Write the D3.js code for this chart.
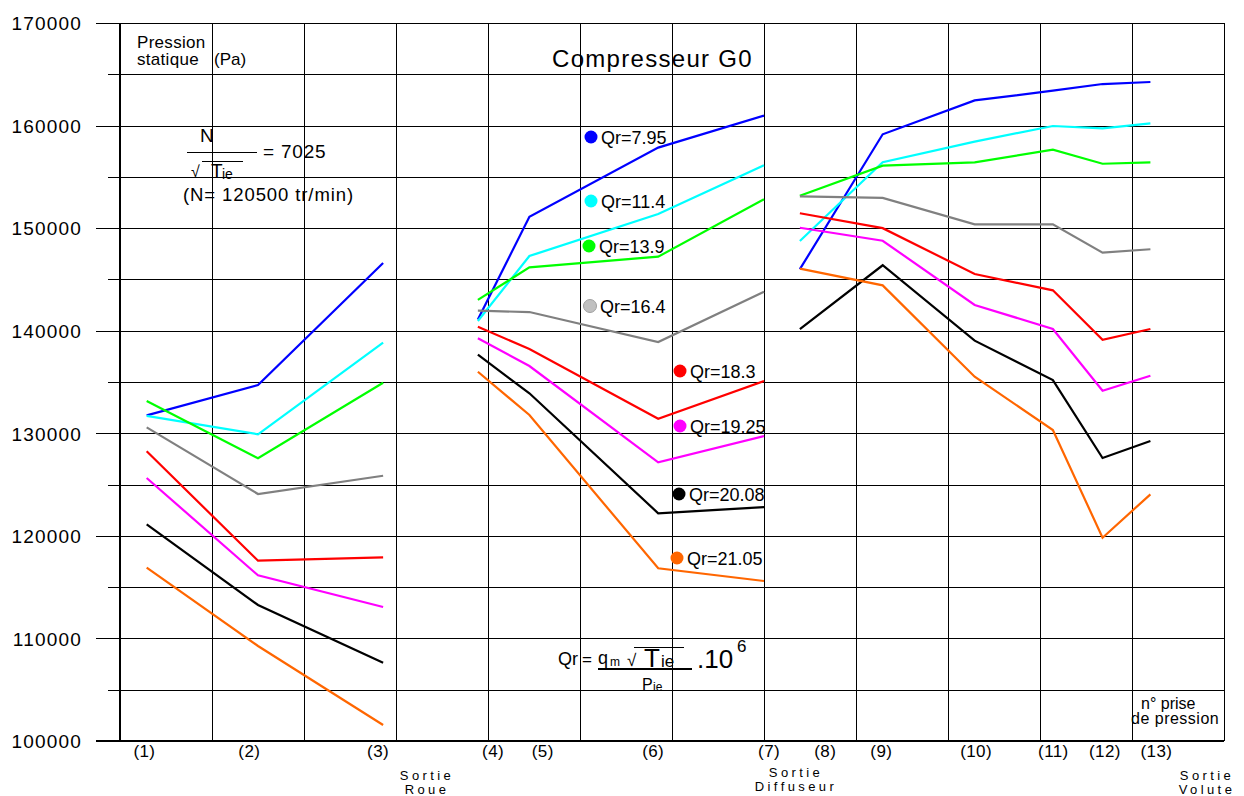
<!DOCTYPE html>
<html>
<head>
<meta charset="utf-8">
<script src="https://cdn.jsdelivr.net/npm/d3@7"></script>
<style>
  html, body { margin: 0; padding: 0; background: #fff; }
  svg { display: block; font-family: "Liberation Sans", Arial, sans-serif; }
</style>
</head>
<body>
<svg id="chart" width="1244" height="796"></svg>
<script>
// Pressure tap numbers along the compressor and where each one sits along the axis
const stations = ["(1)", "(2)", "(3)", "(4)", "(5)", "(6)", "(7)", "(8)", "(9)", "(10)", "(11)", "(12)", "(13)"];
const stationPos = [0.29, 1.50, 2.86, 3.89, 4.45, 5.85, 7.00, 7.39, 8.29, 9.29, 10.14, 10.68, 11.20];
const stationLabelPos = [0.26, 1.40, 2.80, 4.05, 4.59, 5.79, 7.05, 7.66, 8.27, 9.30, 10.14, 10.70, 11.26];

// Component boundaries: impeller (1-3), diffuser (4-7), volute (8-13)
const segments = [[0, 1, 2], [3, 4, 5, 6], [7, 8, 9, 10, 11, 12]];

// Static pressure (Pa) per reduced flow rate Qr
const qrLabels = ["Qr=7.95", "Qr=11.4", "Qr=13.9", "Qr=16.4", "Qr=18.3", "Qr=19.25", "Qr=20.08", "Qr=21.05"];
const qr795  = [131750, 134700, 146600, 141100, 151100, 157850, 160970, 146000, 159150, 162450, 163400, 164050, 164250];
const qr114  = [131700, 129900, 138830, 140950, 147280, 151380, 156120, 148750, 156420, 158430, 159960, 159730, 160220];
const qr139  = [133150, 127560, 134930, 143000, 146180, 147220, 152810, 153150, 156090, 156420, 157650, 156280, 156420];
const qr164  = [130580, 124080, 125860, 141950, 141820, 138900, 143800, 153100, 152950, 150370, 150370, 147610, 147940];
const qr183  = [128240, 117580, 117910, 140390, 138220, 131420, 135100, 151450, 150000, 145530, 143940, 139120, 140170];
const qr1925 = [125640, 116150, 113060, 139260, 136560, 127170, 129730, 150040, 148770, 142510, 140170, 134150, 135610];
const qr2008 = [121120, 113260, 107630, 137660, 133900, 122200, 122810, 140150, 146380, 139030, 135190, 127590, 129250];
const qr2105 = [116900, 109260, 101560, 136000, 131780, 116840, 115600, 146050, 144420, 135520, 130320, 119820, 124050];

const yTicks = [100000, 110000, 120000, 130000, 140000, 150000, 160000, 170000];

// Styling
const seriesValues = [qr795, qr114, qr139, qr164, qr183, qr1925, qr2008, qr2105];
const lineColors = ["#0000ff", "#00ffff", "#00ff00", "#808080", "#ff0000", "#ff00ff", "#000000", "#ff6600"];
const dotColors  = ["#0000ff", "#00ffff", "#00ff00", "#c0c0c0", "#ff0000", "#ff00ff", "#000000", "#ff6600"];
// Legend anchor (dot centre, px) for each series label
const legendAt = [[591, 137], [591, 201], [589, 246], [590, 306], [680, 371], [680, 426], [679, 494], [677, 558]];

const FONT = '"Liberation Sans", Arial, sans-serif';
const svg = d3.select("#chart");

const plotL = 120, plotR = 1224, plotT = 23, plotB = 741;
const x = d3.scaleLinear().domain([0, 12]).range([plotL, plotR]);
const y = d3.scaleLinear().domain([100000, 170000]).range([plotB, plotT]);

// Horizontal grid every 5000 Pa with outer ticks on the left
const gridY = d3.range(100000, 170001, 5000);
const gy = svg.append("g")
  .attr("transform", `translate(${plotL},0)`)
  .call(d3.axisLeft(y).tickValues(gridY).tickSize(-(plotR - plotL)).tickFormat(""));
gy.select(".domain").remove();
gy.selectAll(".tick line")
  .attr("x1", d => (d % 10000 === 0 ? -24 : -12))
  .attr("stroke", "#000").attr("stroke-width", 1)
  .attr("shape-rendering", "crispEdges");

// Pressure tick labels
const gyl = svg.append("g")
  .attr("transform", `translate(82,0)`)
  .call(d3.axisLeft(y).tickValues(yTicks).tickSize(0).tickPadding(0).tickFormat(d3.format("d")));
gyl.select(".domain").remove();
gyl.selectAll(".tick text")
  .attr("font-family", FONT).attr("font-size", 19).attr("fill", "#000")
  .attr("letter-spacing", "1.2px").attr("dy", "0.36em");

// Vertical grid
const gx = svg.append("g")
  .attr("transform", `translate(0,${plotB})`)
  .call(d3.axisBottom(x).tickValues(d3.range(0, 13)).tickSize(-(plotB - plotT)).tickFormat(""));
gx.select(".domain").remove();
gx.selectAll(".tick line")
  .attr("stroke", "#000").attr("stroke-width", 1)
  .attr("shape-rendering", "crispEdges");

// Main axis lines
svg.append("line").attr("x1", plotL).attr("x2", plotL).attr("y1", plotT).attr("y2", plotB)
  .attr("stroke", "#000").attr("stroke-width", 2);
svg.append("line").attr("x1", plotL - 24).attr("x2", plotR).attr("y1", plotB).attr("y2", plotB)
  .attr("stroke", "#000").attr("stroke-width", 2);

// Station labels under the axis
const gs = svg.append("g")
  .attr("transform", `translate(0,${plotB})`)
  .call(d3.axisBottom(x).tickValues(stationLabelPos).tickSize(0).tickPadding(4)
    .tickFormat((d, i) => stations[i]));
gs.select(".domain").remove();
gs.selectAll(".tick text")
  .attr("font-family", FONT).attr("font-size", 17).attr("fill", "#000")
  .attr("letter-spacing", "0.4px")
  .attr("dy", "0.71em");

// Pressure curves, one broken polyline per flow rate
seriesValues.forEach((vals, s) => {
  const gen = d3.line().x(i => x(stationPos[i])).y(i => y(vals[i]));
  segments.forEach(seg => {
    svg.append("path")
      .attr("d", gen(seg))
      .attr("fill", "none")
      .attr("stroke", lineColors[s])
      .attr("stroke-width", 2.2)
      .attr("stroke-linejoin", "miter");
  });
});

// Series labels with coloured markers
qrLabels.forEach((lab, s) => {
  const [cx, cy] = legendAt[s];
  svg.append("circle").attr("cx", cx).attr("cy", cy).attr("r", 6.5)
    .attr("fill", dotColors[s])
    .attr("stroke", s === 3 ? "#a0a0a0" : "none").attr("stroke-width", 1);
  svg.append("text").attr("x", cx + 10).attr("y", cy + 6.5)
    .attr("font-family", FONT).attr("font-size", 18).attr("fill", "#000")
    .text(lab);
});

// Title
svg.append("text").attr("x", 552).attr("y", 67)
  .attr("font-family", FONT).attr("font-size", 24).attr("letter-spacing", "1.3px")
  .text("Compresseur G0");

// Generic text helper
const txt = (xp, yp, s, size, extra) => {
  const t = svg.append("text").attr("x", xp).attr("y", yp)
    .attr("font-family", FONT).attr("font-size", size).attr("fill", "#000").text(s);
  if (extra) extra(t);
  return t;
};
const rule = (x1, x2, yy, w) => svg.append("line")
  .attr("x1", x1).attr("x2", x2).attr("y1", yy).attr("y2", yy)
  .attr("stroke", "#000").attr("stroke-width", w || 1).attr("shape-rendering", "crispEdges");

// Axis caption
txt(137, 48, "Pression", 17, t => t.attr("letter-spacing", "0.3px"));
txt(137, 65, "statique", 17, t => t.attr("letter-spacing", "0.3px"));
txt(214, 65, "(Pa)", 17);

// Reduced speed N / sqrt(Tie) = 7025
txt(200, 142, "N", 19);
rule(187, 257, 152);
txt(263, 158, "= 7025", 19, t => t.attr("letter-spacing", "0.8px"));
txt(191, 177, "\u221A", 16);
rule(202, 243, 161);
txt(211, 177, "T", 19);
txt(222, 179, "ie", 14);
txt(183, 201, "(N= 120500 tr/min)", 18.5, t => t.attr("letter-spacing", "0.9px"));

// Reduced flow definition
txt(558, 665, "Qr", 18);
txt(582, 665, "=", 17);
txt(598, 664, "q", 18);
txt(610, 666, "m", 12);
rule(598, 692, 669, 1.5);
txt(627, 666, "\u221A", 17);
rule(634, 684, 647);
txt(644, 667, "T", 26);
txt(661, 667, "ie", 17);
txt(642, 690, "P", 16);
txt(653, 691, "ie", 12);
txt(697, 668, ".10", 26);
txt(737, 652, "6", 17);

// Component outlet markers
const spaced = (cx, y1, a, b) => {
  txt(cx, y1, a, 13, t => t.attr("text-anchor", "middle").attr("letter-spacing", "3.4px"));
  txt(cx, y1 + 14, b, 13, t => t.attr("text-anchor", "middle").attr("letter-spacing", "3.4px"));
};
spaced(427, 780, "Sortie", "Roue");
spaced(796, 777, "Sortie", "Diffuseur");
spaced(1207, 780, "Sortie", "Volute");

txt(1141, 709, "n\u00B0 prise", 16);
txt(1131, 724, "de pression", 16, t => t.attr("letter-spacing", "0.5px"));
</script>
</body>
</html>
